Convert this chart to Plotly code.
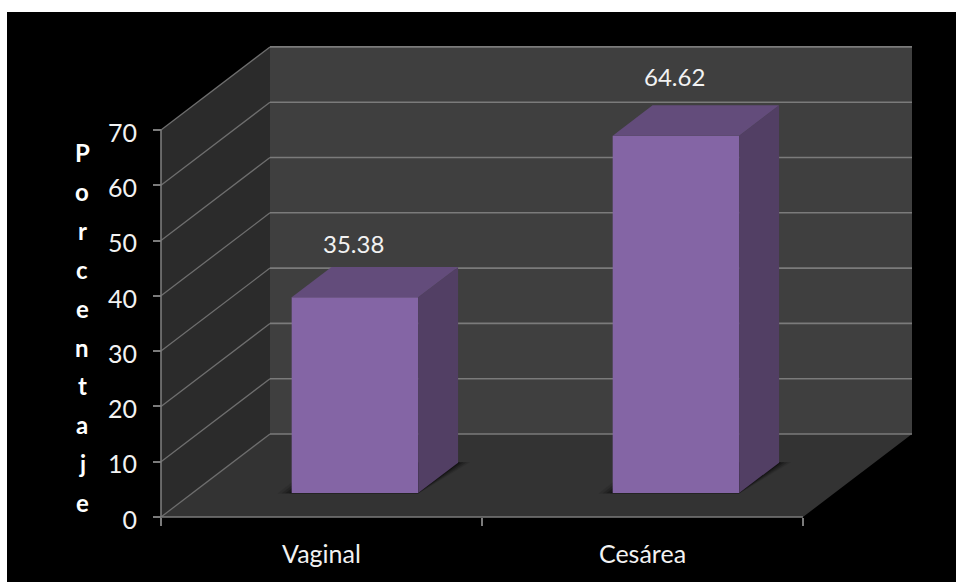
import plotly.graph_objects as go

# ---- data ----
categories = ["Vaginal", "Cesárea"]
values = [35.38, 64.62]
y_ticks = [0, 10, 20, 30, 40, 50, 60, 70]
x_slots = [0, 1, 2]
y_title_letters = list("Porcentaje")

# ---- styles / layout constants ----
W, H = 956, 582
X0_PX, X_UNIT_PX = 161, 321      # pixel of category edge 0, pixels per category
Y0_PX, Y_UNIT_PX = 517, 5.53     # pixel of value 0, pixels per value unit
DEPTH_X = 109 / X_UNIT_PX        # oblique projection of full depth, in axis units
DEPTH_Y = 83 / Y_UNIT_PX
BAR_CENTER = 0.506
BAR_HALF = 0.197
BAR_D0, BAR_D1 = 0.289, 0.655
FRONT, TOP, SIDE = "#8465a5", "#634c7b", "#523f64"
BACK_WALL, SIDE_WALL, FLOOR = "#3f3f3f", "#2b2b2b", "#333333"
GRID = "#7b7b7b"
FONT = "Lato"
LABEL_SHIFT = [23, 29]


def proj(x, y, d=0.0):
    return x + d * DEPTH_X, y + d * DEPTH_Y


def path(points):
    return "M " + " L ".join(f"{x:.5f} {y:.5f}" for x, y in points) + " Z"


xmax, ymax = x_slots[-1], y_ticks[-1]
shapes = [dict(type="rect", xref="paper", yref="paper", x0=7 / W, x1=1, y0=0, y1=1 - 12 / H,
               fillcolor="black", line_width=0, layer="below")]


def poly(points, color):
    shapes.append(dict(type="path", xref="x", yref="y", path=path(points),
                       fillcolor=color, line_width=0, layer="below"))


def seg(a, b, width=1.6, color=GRID):
    shapes.append(dict(type="line", xref="x", yref="y", x0=a[0], y0=a[1], x1=b[0], y1=b[1],
                       line=dict(color=color, width=width), layer="below"))


poly([proj(0, 0, 1), proj(xmax, 0, 1), proj(xmax, ymax, 1), proj(0, ymax, 1)], BACK_WALL)
poly([proj(0, 0), proj(0, ymax), proj(0, ymax, 1), proj(0, 0, 1)], SIDE_WALL)
poly([proj(0, 0), proj(xmax, 0), proj(xmax, 0, 1), proj(0, 0, 1)], FLOOR)

for v in y_ticks:
    seg(proj(0, v), proj(0, v, 1), width=1.3, color="#6e6e6e")
    seg(proj(0, v, 1), proj(xmax, v, 1))
seg(proj(0, 0), proj(0, ymax))
seg(proj(0, 0), proj(xmax, 0))

# soft shadows on the floor, one stack per bar
for i in range(len(values)):
    c = i + BAR_CENTER
    for grow, alpha in [(0.045, 0.10), (0.032, 0.16), (0.02, 0.22), (0.008, 0.35)]:
        gy = grow * 14
        poly([proj(c - BAR_HALF - grow, -gy * 0.2, BAR_D0),
              proj(c + BAR_HALF, -gy * 0.2, BAR_D0),
              proj(c + BAR_HALF + grow * 0.85, gy * 0.2, BAR_D1),
              proj(c - BAR_HALF - grow, gy * 0.2, BAR_D1)],
             f"rgba(0,0,0,{alpha})")

fig = go.Figure()

# front faces
base = proj(0, 0, BAR_D0)[1]
fig.add_trace(go.Bar(
    x=[proj(i + BAR_CENTER, 0, BAR_D0)[0] for i in range(len(values))],
    y=values,
    base=base,
    width=2 * BAR_HALF,
    marker=dict(color=FRONT, line=dict(width=0)),
    hoverinfo="skip",
    showlegend=False,
))

annotations = []
for i, (name, v) in enumerate(zip(categories, values)):
    c = i + BAR_CENTER
    l, r = c - BAR_HALF, c + BAR_HALF
    side = [proj(r, 0, BAR_D0), proj(r, v, BAR_D0), proj(r, v, BAR_D1), proj(r, 0, BAR_D1)]
    top = [proj(l, v, BAR_D0), proj(r, v, BAR_D0), proj(r, v, BAR_D1), proj(l, v, BAR_D1)]
    for pts, color in ((side, SIDE), (top, TOP)):
        fig.add_trace(go.Scatter(
            x=[p[0] for p in pts] + [pts[0][0]],
            y=[p[1] for p in pts] + [pts[0][1]],
            mode="lines", fill="toself", fillcolor=color,
            line=dict(width=0, color=color),
            hoverinfo="skip", showlegend=False,
        ))
    lx, ly = proj(c, v, BAR_D1)
    annotations.append(dict(x=lx - 0.13, y=ly, xref="x", yref="y", text=f"{v:.2f}",
                            showarrow=False, yshift=LABEL_SHIFT[i],
                            font=dict(family=FONT, size=24, color="#f2f2f2")))

# stacked vertical axis title
for k, ch in enumerate(y_title_letters):
    annotations.append(dict(x=82 / W, y=1 - (153 + 38.8 * k) / H, xref="paper", yref="paper",
                            xanchor="center", yanchor="middle",
                            text=f"<b>{ch}</b>", showarrow=False,
                            font=dict(family=FONT, size=24, color="white")))

fig.update_layout(
    width=W, height=H,
    margin=dict(l=0, r=0, t=0, b=0),
    paper_bgcolor="white",
    plot_bgcolor="rgba(0,0,0,0)",
    shapes=shapes,
    annotations=annotations,
    font=dict(family=FONT, color="#f2f2f2", size=25),
    xaxis=dict(
        range=[-X0_PX / X_UNIT_PX, (W - X0_PX) / X_UNIT_PX],
        domain=[0, 1], anchor="free", position=(H - Y0_PX) / H,
        tickmode="array", tickvals=[i + 0.5 for i in range(len(categories))], ticktext=categories,
        ticks="", showgrid=False, zeroline=False, showline=False,
        ticklabelstandoff=20,
        minor=dict(tickmode="array", tickvals=x_slots, ticks="outside", ticklen=8,
                   tickwidth=1.6, tickcolor=GRID, showgrid=False),
    ),
    yaxis=dict(
        range=[-(H - Y0_PX) / Y_UNIT_PX, Y0_PX / Y_UNIT_PX],
        domain=[0, 1], anchor="free", position=X0_PX / W,
        tickmode="array", tickvals=y_ticks,
        ticks="outside", ticklen=8, tickwidth=1.6, tickcolor=GRID,
        showgrid=False, zeroline=False, showline=False,
        ticklabelstandoff=11, ticklabelshift=3,
    ),
)

fig.write_html("out.html", config=dict(displayModeBar=False),
               post_script="document.body.style.margin='0';document.body.style.overflow='hidden';")
